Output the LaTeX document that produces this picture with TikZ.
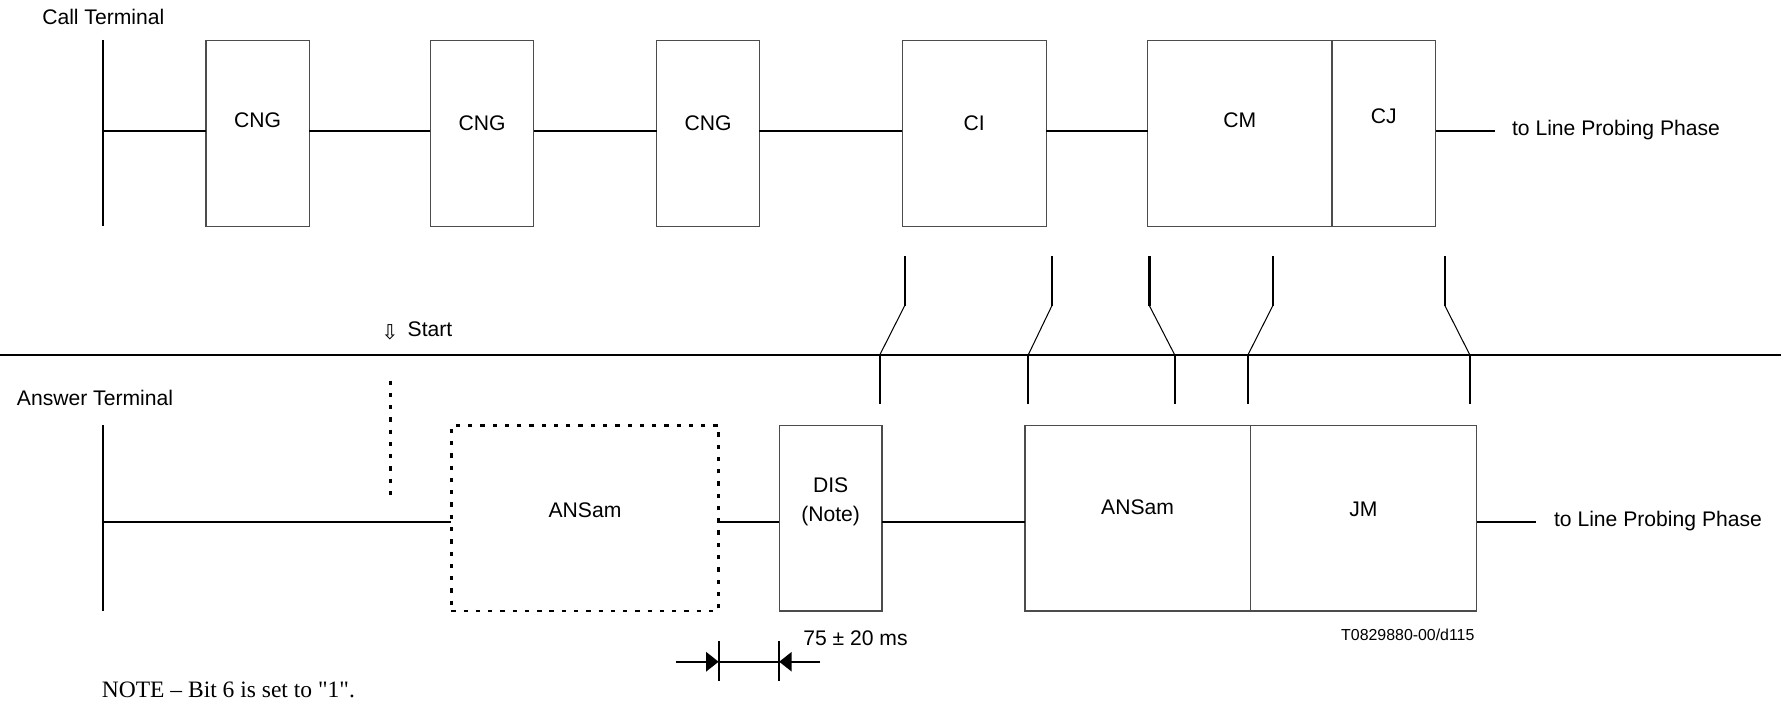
\documentclass[tikz,border=0pt]{standalone}
\usepackage{fontspec}
\setmainfont{Liberation Sans}
\newfontfamily\notefont{Liberation Serif}
\newfontfamily\arrowfont{DejaVu Sans}
\usetikzlibrary{positioning, arrows.meta}
\tikzset{
	sigtext/.style={font=\fontsize{18.6}{25.7}\selectfont, inner sep=0pt}
}
\tikzset{
	sigbox/.style={sigtext, draw=black!70, line width=1.1pt, outer sep=0pt,
		minimum height=163.5pt, text height=13.3pt},
	topbox/.style={sigbox, text depth=22pt},
	lowbox/.style={sigbox, text depth=16pt},
	timeline/.style={line width=2pt},
	slant/.style={line width=0.9pt},
	dotline/.style={line width=2.4pt, dash pattern=on 3.8pt off 7pt},
	dimtip/.style={line width=1.6pt, -{Triangle[length=11pt,width=17pt]}}
}
\newcommand{\lprobe}{to Line Probing Phase}

\begin{document}
\begin{tikzpicture}[x=1pt, y=-1pt]
  \useasboundingbox (0,0) rectangle (1568,620);
  \fill[white] (0,0) rectangle (1568,620);

  % call terminal
  \node[sigtext, anchor=base west] (calllbl) at (37,22) {Call Terminal};
  \coordinate (ctop) at (91,35.2);
  \coordinate (cbot) at (91,198.7);
  \coordinate (cline) at (91,115.3);
  \node[topbox, minimum width=91pt, text depth=25pt] (cng1) at (226.8,117.7) {CNG};
  \node[topbox, minimum width=91pt, text depth=19pt] (cng2) at (424.5,117.7) {CNG};
  \node[topbox, minimum width=90.2pt, text depth=19pt] (cng3) at (623.3,117.7) {CNG};
  \node[topbox, minimum width=126.6pt, text depth=19pt] (ci) at (857.7,117.7) {CI};
  \node[topbox, minimum width=162.5pt, text depth=25pt] (cm) at (1091.5,117.7) {CM};
  \node[topbox, minimum width=91.1pt, text depth=31pt, right=0pt of cm] (cj) {CJ};
  \coordinate (cend) at (1316.6,115.3);
  \node[sigtext, anchor=base west] (cprobe) at (1331,119.7) {\lprobe};
  \draw[timeline] (ctop) -- (cbot);
  \draw[timeline] (cline) -- (cng1.west |- cline);
  \draw[timeline] (cng1.east |- cline) -- (cng2.west |- cline);
  \draw[timeline] (cng2.east |- cline) -- (cng3.west |- cline);
  \draw[timeline] (cng3.east |- cline) -- (ci.west |- cline);
  \draw[timeline] (ci.east |- cline) -- (cm.west |- cline);
  \draw[timeline] (cj.east |- cline) -- (cend);

  % transfer marks
  \coordinate (rowl) at (0,312.4);
  \coordinate (rowr) at (1568,312.4);
  \draw[timeline] (rowl) -- (rowr);
  \foreach \xa/\xb in {796.5/774.6, 926.1/905.3, 1011.9/1034.2, 1120.6/1098.7, 1272.1/1294} {
    \draw[timeline] (\xa,225.4) -- (\xa,269.1);
    \draw[slant] (\xa,269.1) -- (\xb,312.4);
    \draw[timeline] (\xb,312.4) -- (\xb,356);
  }
  \node[font=\arrowfont\fontsize{18}{18}\selectfont, inner sep=0pt] (startarr) at (343.4,292.6) {⇩};
  \node[sigtext, anchor=base west] (startlbl) at (358.7,296.4) {Start};

  % answer terminal
  \node[sigtext, anchor=base west] (anslbl) at (14.7,356.6) {Answer Terminal};
  \coordinate (atop) at (91,374.2);
  \coordinate (abot) at (91,537.7);
  \coordinate (aline) at (89.5,459.5);
  \coordinate (dtop) at (343.5,335);
  \coordinate (dbot) at (343.5,437.3);
  \node[lowbox, dotline, draw=black, minimum width=235.3pt, text depth=14.4pt] (ans1) at (515,456.2) {ANSam};
  \node[lowbox, minimum width=90.6pt, align=center, text depth=7pt] (dis) at (731.3,456.2) {DIS\\(Note)};
  \node[lowbox, minimum width=198.2pt, text depth=19pt] (ans2) at (1001.5,456.2) {ANSam};
  \node[lowbox, minimum width=199.4pt, right=0pt of ans2] (jm) {JM};
  \coordinate (aend) at (1352.7,459.5);
  \node[sigtext, anchor=base west] (aprobe) at (1368,463.7) {\lprobe};
  \draw[timeline] (atop) -- (abot);
  \draw[dotline] (dtop) -- (dbot);
  \draw[timeline] (aline) -- (ans1.west |- aline);
  \draw[timeline] (ans1.east |- aline) -- (dis.west |- aline);
  \draw[timeline] (dis.east |- aline) -- (ans2.west |- aline);
  \draw[timeline] (jm.east |- aline) -- (aend);

  % DIS delay
  \coordinate (mrow) at (0,582.6);
  \coordinate (m1t) at (ans1.east |- 0,564.4);
  \coordinate (m1b) at (ans1.east |- 0,599.6);
  \coordinate (m2t) at (dis.west |- 0,564.4);
  \coordinate (m2b) at (dis.west |- 0,599.6);
  \coordinate (ml) at (595,582.6);
  \coordinate (mr) at (722,582.6);
  \draw[line width=1.8pt] (m1t) -- (m1b);
  \draw[line width=1.8pt] (m2t) -- (m2b);
  \draw[dimtip] (ml) -- (ans1.east |- mrow);
  \draw[line width=1.6pt] (ans1.east |- mrow) -- (dis.west |- mrow);
  \draw[dimtip] (mr) -- (dis.west |- mrow);
  \node[sigtext, anchor=base west] (durlbl) at (707,568.3) {75 ± 20 ms};

  \node[font=\fontsize{14}{14}\selectfont, inner sep=0pt, anchor=base east] (figid) at (1298.3,563.5) {T0829880-00/d115};
  \node[font=\notefont\fontsize{20.7}{24}\selectfont, inner sep=0pt, anchor=base west] (note) at (89.5,614.3) {NOTE – Bit 6 is set to "1".};
\end{tikzpicture}
\end{document}
